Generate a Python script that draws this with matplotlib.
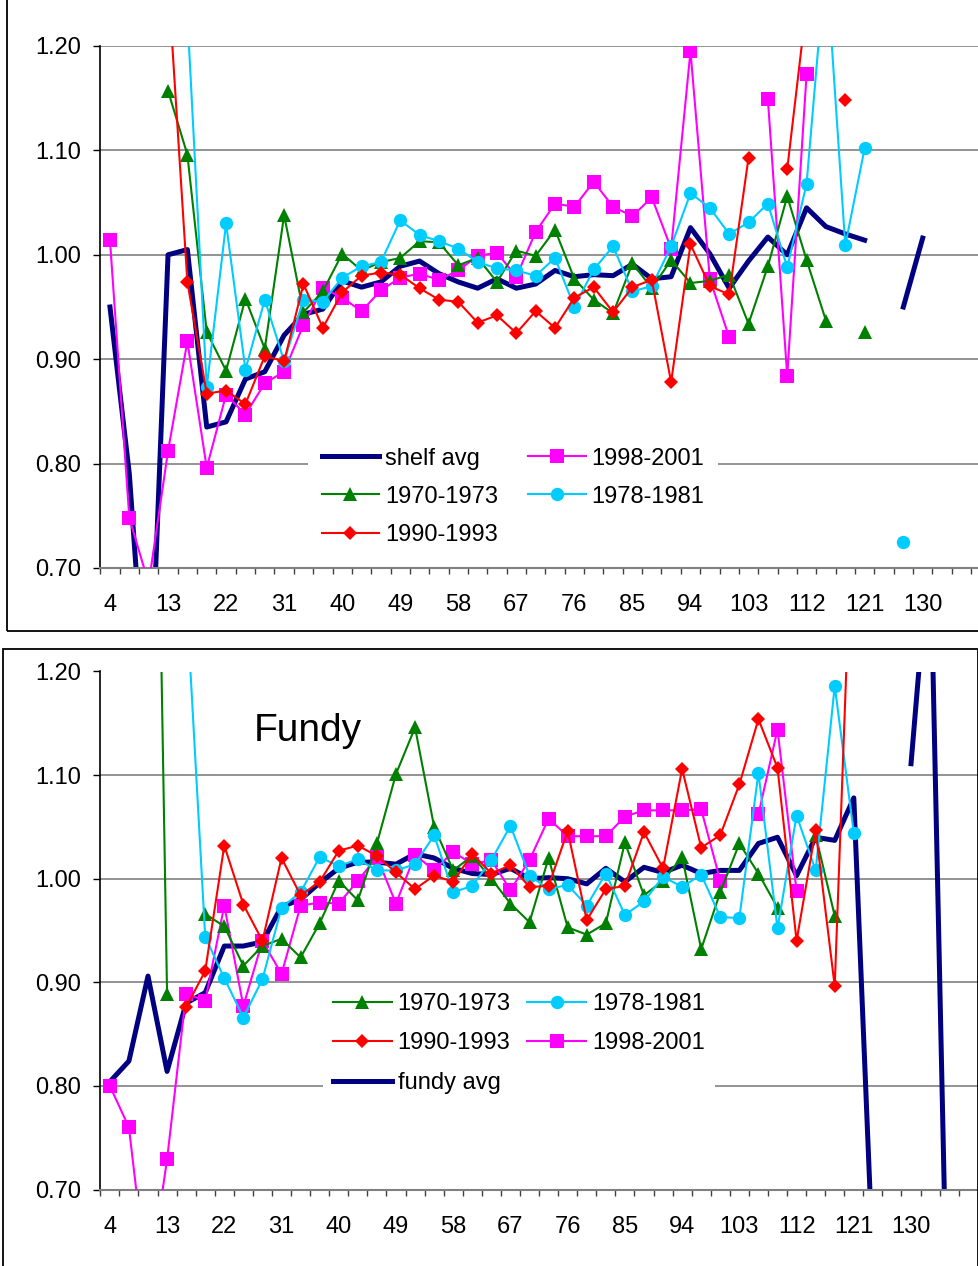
import numpy as np
import matplotlib.pyplot as plt
from matplotlib.patches import Rectangle

plt.rcParams['font.family'] = ['Liberation Sans', 'DejaVu Sans']

nan = np.nan

# ==========================
# Categories (x axis)
# ==========================
categorias = list(range(4, 140, 3))
etiquetas_idx = list(range(0, 43, 3))   # only every 3rd category gets a label

# ==========================
# Shelf panel (top)
# ==========================
shelf_avg = [0.950, 0.790, 0.530, 1.000, 1.005, 0.835, 0.840, 0.881, 0.888, 0.923,
             0.943, 0.948, 0.975, 0.969, 0.974, 0.989, 0.994, 0.982, 0.974, 0.968,
             0.977, 0.968, 0.972, 0.985, 0.979, 0.981, 0.980, 0.991, 0.977, 0.979,
             1.026, 1.001, 0.968, 0.994, 1.017, 1.000, 1.045, 1.027, 1.020, 1.014,
             nan, 0.950, 1.016, nan, nan, nan]
shelf_7073 = [nan, nan, nan, 1.157, 1.096, 0.926, 0.889, 0.958, 0.910, 1.038,
              0.945, 0.965, 1.001, 0.985, 0.993, 0.997, 1.013, 1.012, 0.990, 0.997,
              0.974, 1.004, 0.999, 1.024, 0.977, 0.957, 0.944, 0.992, 0.968, 0.995,
              0.973, 0.975, 0.981, 0.934, 0.989, 1.056, 0.995, 0.937, nan, 0.926,
              nan, nan, nan, nan, nan, nan]
shelf_7881 = [nan, nan, nan, nan, 1.230, 0.873, 1.030, 0.890, 0.957, 0.898,
              0.957, 0.955, 0.978, 0.989, 0.993, 1.033, 1.019, 1.013, 1.006, 0.993,
              0.987, 0.985, 0.980, 0.997, 0.950, 0.986, 1.008, 0.965, 0.970, 1.008,
              1.059, 1.045, 1.020, 1.031, 1.049, 0.988, 1.068, 1.285, 1.009, 1.102,
              nan, 0.725, nan, nan, nan, nan]
shelf_9093 = [nan, nan, nan, 1.265, 0.974, 0.867, 0.870, 0.857, 0.903, 0.898,
              0.972, 0.930, 0.964, 0.980, 0.983, 0.981, 0.968, 0.957, 0.955, 0.935,
              0.942, 0.925, 0.946, 0.930, 0.959, 0.969, 0.945, 0.969, 0.976, 0.878,
              1.010, 0.970, 0.962, 1.093, nan, 1.082, 1.240, nan, 1.148, nan,
              nan, nan, nan, nan, nan, nan]
shelf_9801 = [1.014, 0.748, 0.685, 0.812, 0.917, 0.796, 0.866, 0.847, 0.877, 0.888,
              0.933, 0.968, 0.959, 0.946, 0.966, 0.978, 0.982, 0.976, 0.985, 0.999,
              1.002, 0.979, 1.022, 1.049, 1.046, 1.070, 1.046, 1.037, 1.055, 1.006,
              1.195, 0.977, 0.921, nan, 1.149, 0.884, 1.173, nan, nan, nan,
              nan, nan, nan, nan, nan, nan]

# ==========================
# Fundy panel (bottom)
# ==========================
fundy_avg = [0.804, 0.824, 0.906, 0.814, 0.880, 0.890, 0.935, 0.935, 0.939, 0.973,
             0.980, 0.996, 1.010, 1.016, 1.016, 1.014, 1.024, 1.020, 1.010, 1.005,
             1.004, 1.010, 1.000, 1.001, 1.000, 0.995, 1.010, 0.997, 1.011, 1.006,
             1.013, 1.005, 1.008, 1.008, 1.034, 1.040, 1.003, 1.040, 1.037, 1.078,
             0.630, nan, 1.111, 1.330, 0.480, nan]
fundy_7073 = [nan, nan, 1.960, 0.889, nan, 0.966, 0.954, 0.916, 0.935, 0.942,
              0.924, 0.957, 0.998, 0.979, 1.034, 1.101, 1.146, 1.050, 1.008, 1.022,
              1.000, 0.976, 0.958, 1.020, 0.953, 0.946, 0.957, 1.035, 0.984, 0.998,
              1.021, 0.932, 0.987, 1.034, 1.005, 0.972, nan, 1.042, 0.964, nan,
              nan, nan, nan, nan, nan, nan]
fundy_7881 = [nan, nan, nan, nan, 1.275, 0.944, 0.904, 0.866, 0.903, 0.972,
              0.987, 1.021, 1.012, 1.019, 1.008, 1.008, 1.014, 1.042, 0.987, 0.993,
              1.018, 1.051, 1.003, 0.990, 0.994, 0.974, 1.005, 0.965, 0.978, 1.002,
              0.992, 1.004, 0.963, 0.962, 1.102, 0.952, 1.061, 1.008, 1.186, 1.044,
              nan, nan, nan, nan, nan, nan]
fundy_9093 = [nan, nan, nan, nan, 0.876, 0.911, 1.032, 0.975, 0.940, 1.020,
              0.984, 0.997, 1.027, 1.032, 1.022, 1.006, 0.990, 1.003, 0.997, 1.024,
              1.005, 1.013, 0.992, 0.993, 1.046, 0.960, 0.990, 0.993, 1.045, 1.010,
              1.106, 1.030, 1.042, 1.091, 1.154, 1.107, 0.940, 1.047, 0.896, 1.400,
              nan, nan, nan, nan, nan, nan]
fundy_9801 = [0.800, 0.760, 0.603, 0.729, 0.889, 0.882, 0.974, 0.877, 0.940, 0.908,
              0.974, 0.977, 0.976, 0.998, 1.021, 0.976, 1.023, 1.008, 1.026, 1.014,
              1.018, 0.989, 1.018, 1.058, 1.041, 1.041, 1.041, 1.060, 1.066, 1.066,
              1.066, 1.067, 0.998, nan, 1.062, 1.144, 0.988, nan, nan, nan,
              nan, nan, nan, nan, nan, nan]

W, H = 979, 1266
fig = plt.figure(figsize=(W / 100, H / 100), dpi=100)


def panel(rect, avg, g, c, r, m, avg_label):
    ax = fig.add_axes(rect)
    x = np.arange(len(categorias))
    l_avg, = ax.plot(x, avg, color='#000080', lw=3.6, label=avg_label, zorder=2)
    l_m, = ax.plot(x, m, color='#FF00FF', lw=1.5, marker='s', ms=9.4, mew=0,
                   label='1998-2001', zorder=3)
    l_g, = ax.plot(x, g, color='#008000', lw=1.5, marker='^', ms=10, mew=0,
                   label='1970-1973', zorder=4)
    l_c, = ax.plot(x, c, color='#00CCFF', lw=1.5, marker='o', ms=9.6, mew=0,
                   label='1978-1981', zorder=5)
    l_r, = ax.plot(x, r, color='#FF0000', lw=1.5, marker='D', ms=7.2, mew=0,
                   label='1990-1993', zorder=6)

    ax.set_xlim(-0.5, len(categorias) - 0.5)
    ax.set_ylim(0.70, 1.20)

    # tick marks between categories, labels on every 3rd category
    ax.set_xticks(np.arange(-0.5, len(categorias), 1))
    ax.set_xticklabels([])
    ax.set_xticks(etiquetas_idx, minor=True)
    ax.set_xticklabels([str(categorias[i]) for i in etiquetas_idx], minor=True)
    ax.tick_params(axis='x', which='major', length=4.5, width=1, color='#404040')
    ax.tick_params(axis='x', which='minor', length=0, pad=19, labelsize=17)

    yt = [0.70, 0.80, 0.90, 1.00, 1.10, 1.20]
    ax.set_yticks(yt)
    ax.set_yticklabels(['%.2f' % v for v in yt])
    ax.tick_params(axis='y', length=5, width=1, pad=9, labelsize=17)

    ax.yaxis.grid(True, color='#808080', lw=1.2)
    ax.set_axisbelow(True)
    for s in ['top', 'right']:
        ax.spines[s].set_visible(False)
    ax.spines['left'].set_color('black')
    ax.spines['left'].set_linewidth(1.2)
    ax.spines['bottom'].set_color('#808080')
    ax.spines['bottom'].set_linewidth(1.5)
    return ax, l_avg, l_g, l_c, l_r, l_m


def fx(px):
    return px / W


def fy(py):
    return 1 - py / H


# top panel: plot area 100..990 px wide (cropped on the right), 46..568 px tall
ax1, a, g, c, r, m = panel([fx(100.3), fy(568), fx(990.4) - fx(100.3), (568 - 46) / H],
                           shelf_avg, shelf_7073, shelf_7881, shelf_9093, shelf_9801,
                           'shelf avg')
leg1 = ax1.legend([a, g, r, m, c], ['shelf avg', '1970-1973', '1990-1993', '1998-2001', '1978-1981'],
                  ncol=2, loc='upper left', bbox_to_anchor=(fx(308), fy(434)),
                  bbox_transform=fig.transFigure, borderaxespad=0, borderpad=0.58,
                  fontsize=17, handlelength=2.44, handletextpad=0.24, columnspacing=1.27,
                  labelspacing=0.68, fancybox=False, framealpha=1, facecolor='white',
                  edgecolor='none')

# bottom panel
ax2, a, g, c, r, m = panel([fx(100.3), fy(1189.5), fx(977.8) - fx(100.3), (1189.5 - 671.5) / H],
                           fundy_avg, fundy_7073, fundy_7881, fundy_9093, fundy_9801,
                           'fundy avg')
leg2 = ax2.legend([g, r, a, c, m], ['1970-1973', '1990-1993', 'fundy avg', '1978-1981', '1998-2001'],
                  ncol=2, loc='upper left', bbox_to_anchor=(fx(323), fy(983)),
                  bbox_transform=fig.transFigure, borderaxespad=0, borderpad=0.42,
                  fontsize=17, handlelength=2.5, handletextpad=0.24, columnspacing=0.71,
                  labelspacing=0.74, fancybox=False, framealpha=1, facecolor='white',
                  edgecolor='none')

fig.text(fx(254), fy(741), 'Fundy', fontsize=28, va='baseline', ha='left')

# chart area borders
fig.add_artist(Rectangle((fx(6.7), fy(631)), 1.1, 0.6, fill=False, lw=1.3,
                         ec='black', transform=fig.transFigure))
fig.add_artist(Rectangle((fx(3), -0.05), fx(977.7) - fx(3), fy(649.3) + 0.05, fill=False,
                         lw=1.3, ec='black', transform=fig.transFigure))

fig.savefig('out.png', dpi=100)
